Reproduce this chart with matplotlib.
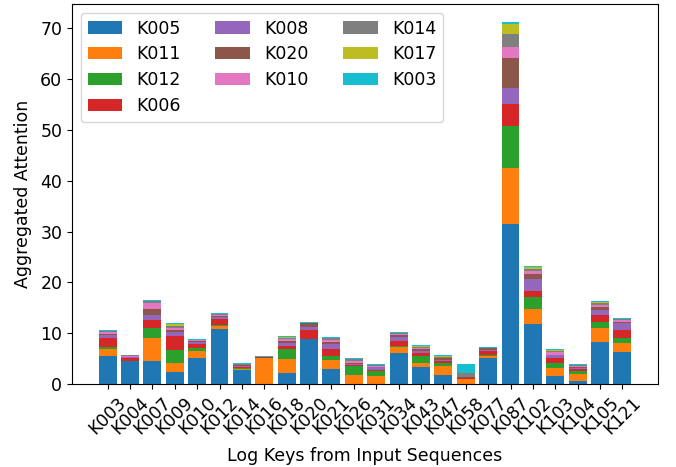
import matplotlib.pyplot as plt
import numpy as np

keys = ["K003", "K004", "K007", "K009", "K010", "K012", "K014", "K016",
        "K018", "K020", "K021", "K026", "K031", "K034", "K043", "K047",
        "K058", "K077", "K087", "K102", "K103", "K104", "K105", "K121"]

series_names = ["K005", "K011", "K012", "K006", "K008",
                "K020", "K010", "K014", "K017", "K003"]

# attention contributed by each series, per log key (stack order bottom -> top)
k005 = [5.5, 4.5, 4.5, 2.35, 5.1, 10.8, 2.75, 0.0, 2.15, 8.85, 2.95, 0.05,
        0.05, 6.1, 3.35, 1.75, 0.0, 5.1, 31.45, 11.8, 1.55, 0.6, 8.25, 6.3]
k011 = [1.4, 0.05, 4.55, 1.75, 1.4, 0.6, 0.2, 5.2, 2.75, 0.0, 1.75, 1.7,
        1.5, 1.2, 0.75, 1.8, 1.0, 0.45, 11.05, 2.95, 1.6, 1.35, 2.75, 1.75]
k012 = [0.45, 0.05, 1.95, 2.6, 0.6, 0.2, 0.2, 0.0, 2.0, 0.0, 0.8, 1.8,
        1.0, 0.25, 1.4, 0.55, 0.05, 0.15, 8.2, 2.35, 0.95, 0.65, 1.2, 1.05]
k006 = [1.7, 0.5, 1.6, 2.75, 0.75, 1.2, 0.2, 0.1, 0.65, 1.75, 1.4, 0.2,
        0.25, 0.9, 0.6, 0.4, 0.15, 0.8, 4.35, 1.2, 1.1, 0.3, 1.35, 1.5]
k008 = [0.55, 0.2, 1.0, 0.75, 0.4, 0.4, 0.2, 0.0, 0.5, 0.6, 0.95, 0.2,
        0.55, 0.8, 0.4, 0.2, 0.0, 0.2, 3.15, 2.35, 0.5, 0.3, 1.05, 1.45]
k020 = [0.2, 0.1, 1.1, 0.4, 0.2, 0.2, 0.1, 0.0, 0.4, 0.8, 0.4, 0.2,
        0.05, 0.4, 0.3, 0.4, 0.1, 0.3, 5.9, 1.05, 0.1, 0.1, 0.55, 0.2]
k010 = [0.5, 0.2, 1.3, 0.4, 0.2, 0.2, 0.15, 0.05, 0.4, 0.05, 0.4, 0.3,
        0.2, 0.2, 0.25, 0.1, 0.0, 0.05, 2.15, 0.6, 0.55, 0.3, 0.45, 0.4]
k014 = [0.1, 0.05, 0.25, 0.4, 0.1, 0.1, 0.1, 0.0, 0.15, 0.0, 0.4, 0.5,
        0.05, 0.1, 0.25, 0.1, 0.95, 0.05, 2.55, 0.3, 0.15, 0.1, 0.3, 0.1]
k017 = [0.05, 0.0, 0.05, 0.45, 0.0, 0.1, 0.0, 0.0, 0.25, 0.0, 0.0, 0.0,
        0.0, 0.0, 0.2, 0.2, 0.0, 0.0, 2.0, 0.4, 0.2, 0.0, 0.2, 0.0]
k003 = [0.25, 0.15, 0.25, 0.15, 0.1, 0.15, 0.25, 0.2, 0.2, 0.2, 0.2, 0.2,
        0.2, 0.25, 0.2, 0.2, 1.6, 0.15, 0.4, 0.25, 0.2, 0.25, 0.2, 0.25]

series = [k005, k011, k012, k006, k008, k020, k010, k014, k017, k003]

plt.rcParams["font.size"] = 12.5
fig, ax = plt.subplots(figsize=(6.76, 4.67), dpi=100)
fig.subplots_adjust(left=0.1065, right=0.9734, top=0.9914, bottom=0.1777)

x = np.arange(len(keys))
bottom = np.zeros(len(keys))
for name, vals in zip(series_names, series):
    vals = np.array(vals)
    ax.bar(x, vals, bottom=bottom, label=name)
    bottom += vals

ax.set_xticks(x)
ax.set_xticklabels(keys, rotation=45)
ax.set_xlabel("Log Keys from Input Sequences", labelpad=6.5)
ax.set_ylabel("Aggregated Attention", labelpad=6)
ax.legend(loc="upper left", ncol=3, labelspacing=0.45)

fig.savefig("out.png")
